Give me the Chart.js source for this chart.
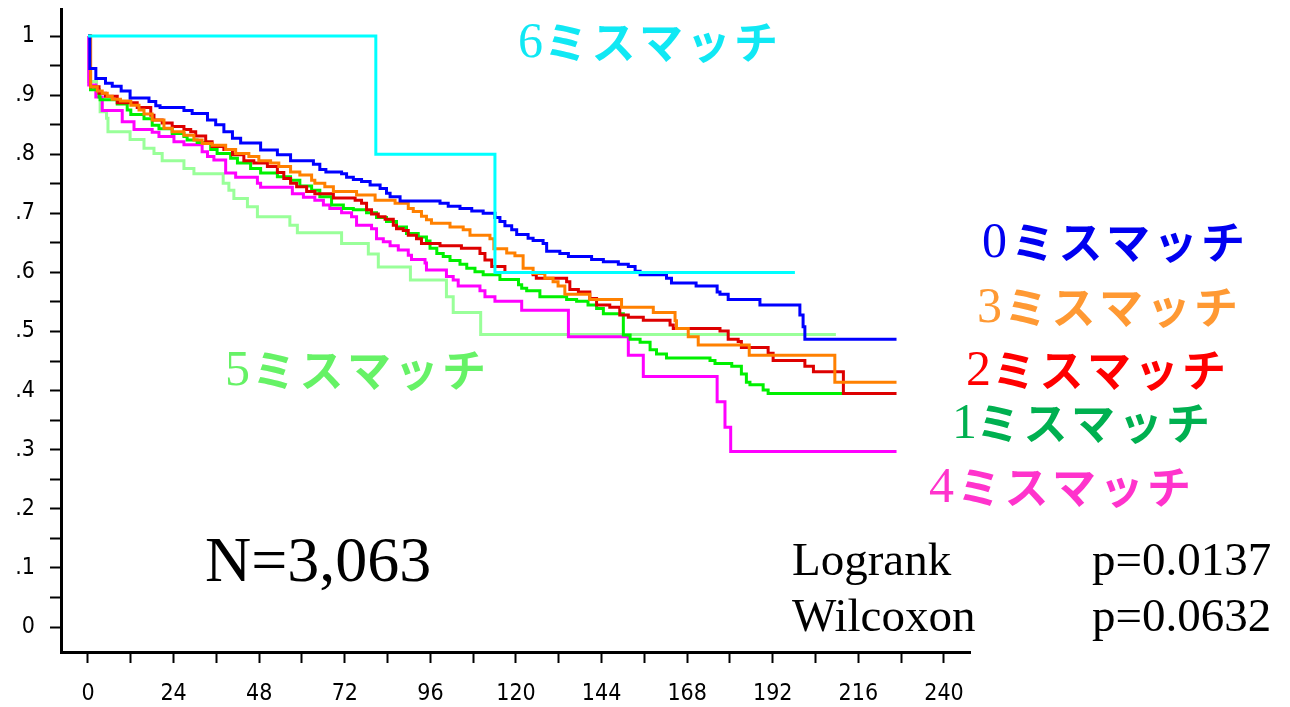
<!DOCTYPE html>
<html>
<head>
<meta charset="utf-8">
<script src="https://cdn.jsdelivr.net/npm/chart.js@4.4.1/dist/chart.umd.min.js"></script>
<style>
  html, body { margin: 0; padding: 0; background: #fff; }
  canvas { display: block; }
</style>
</head>
<body>
<canvas id="km" width="1290" height="707"></canvas>
<script>
// Kaplan-Meier curves by number of mismatches (months, survival)
const months0 = [0, 0.5, 2.2, 4.9, 6.8, 9.3, 11.8, 17.1, 19.0, 20.2, 26.9, 29.2, 33.5, 35.8, 38.1, 40.5, 42.8, 48.4, 53.1, 56.8, 63.2, 65.0, 66.7, 71.1, 72.5, 74.4, 76.7, 79.1, 81.9, 83.7, 84.7, 87.5, 98.7, 101.0, 104.3, 107.6, 110.8, 114.1, 115.5, 116.9, 118.8, 120.2, 123.4, 124.8, 127.6, 128.6, 132.3, 134.7, 141.2, 144.5, 148.7, 151.5, 153.4, 154.8, 162.2, 163.6, 170.5, 176.4, 177.2, 179.5, 188.4, 199.6, 200.5, 201.0, 226.7];
const surv0   = [1, .945, .928, .920, .915, .907, .895, .889, .882, .879, .874, .869, .858, .850, .838, .827, .819, .807, .799, .789, .783, .774, .770, .767, .761, .757, .754, .748, .742, .734, .728, .721, .717, .712, .708, .704, .700, .693, .686, .679, .672, .664, .658, .654, .649, .636, .632, .627, .622, .618, .614, .610, .602, .596, .590, .582, .577, .567, .563, .554, .545, .528, .508, .487, .487];

const months1 = [0, 0.7, 3.1, 3.4, 8.2, 11.0, 12.0, 15.7, 18.0, 19.9, 23.6, 26.9, 27.8, 30.6, 34.4, 36.2, 40.0, 41.9, 45.6, 48.4, 53.1, 56.8, 59.4, 62.7, 65.0, 68.3, 71.6, 74.4, 78.1, 80.9, 83.7, 86.5, 89.3, 92.6, 94.9, 95.9, 97.8, 99.6, 101.5, 104.3, 106.2, 108.5, 110.8, 115.5, 120.7, 121.6, 123.0, 126.7, 134.2, 137.0, 140.2, 142.6, 144.5, 150.1, 152.0, 154.8, 157.6, 159.4, 162.2, 174.4, 175.8, 180.5, 183.2, 184.6, 185.6, 189.3, 190.7, 211.8];
const surv1   = [1, .909, .897, .892, .885, .875, .867, .860, .849, .843, .835, .830, .824, .820, .808, .801, .793, .785, .776, .768, .762, .756, .746, .739, .728, .714, .708, .706, .701, .693, .686, .677, .666, .660, .653, .641, .632, .627, .620, .614, .607, .601, .596, .588, .579, .573, .569, .559, .554, .551, .545, .539, .530, .494, .487, .482, .469, .462, .455, .451, .446, .441, .428, .414, .410, .401, .395, .395];

const months2 = [0, 0.7, 3.1, 4.9, 8.2, 13.8, 17.6, 18.5, 20.8, 23.6, 26.9, 28.8, 30.2, 33.0, 34.8, 38.1, 40.5, 43.7, 46.5, 50.3, 53.1, 54.9, 56.8, 58.5, 61.3, 63.6, 68.8, 74.9, 76.7, 78.1, 79.5, 81.4, 83.3, 85.6, 86.5, 88.4, 89.8, 92.1, 93.5, 98.7, 104.7, 109.9, 111.3, 113.2, 116.9, 124.8, 125.7, 134.2, 135.1, 137.5, 140.7, 142.6, 146.3, 149.1, 151.5, 155.7, 163.2, 164.1, 177.2, 179.5, 182.3, 183.2, 190.7, 192.1, 201.0, 203.4, 211.8, 226.7];
const surv2   = [1, .914, .903, .898, .887, .879, .866, .858, .853, .847, .842, .838, .831, .821, .813, .808, .799, .789, .785, .779, .769, .759, .751, .745, .737, .733, .726, .722, .717, .706, .699, .694, .690, .680, .674, .671, .663, .657, .649, .645, .641, .632, .621, .610, .600, .596, .590, .584, .571, .567, .556, .545, .541, .528, .524, .519, .511, .505, .501, .487, .483, .473, .463, .451, .441, .432, .395, .395];

const months3 = [0, 0.75, 2.6, 4.0, 5.4, 6.8, 9.1, 12.0, 14.3, 15.7, 18.0, 21.3, 23.6, 26.9, 29.7, 32.0, 34.8, 38.6, 41.4, 45.1, 47.9, 51.2, 53.5, 56.8, 59.4, 62.7, 63.6, 66.4, 68.8, 75.3, 80.5, 86.1, 89.8, 91.2, 93.5, 94.9, 96.3, 101.5, 105.2, 107.1, 112.7, 113.8, 117.4, 119.7, 122.0, 124.8, 128.1, 130.4, 131.8, 133.7, 140.7, 149.6, 158.5, 164.6, 165.0, 168.3, 171.1, 185.4, 209.4, 226.7];
const surv3   = [1, .914, .907, .903, .898, .893, .890, .883, .875, .868, .858, .844, .838, .832, .824, .818, .815, .808, .801, .796, .789, .785, .779, .770, .765, .756, .751, .745, .737, .731, .722, .717, .708, .703, .695, .689, .683, .677, .672, .663, .657, .640, .633, .628, .607, .598, .590, .584, .577, .563, .554, .541, .532, .518, .505, .491, .477, .460, .414, .414];

const months4 = [0, 0.2, 2.2, 4.0, 9.6, 12.9, 18.0, 19.9, 24.1, 26.9, 32.0, 33.5, 35.3, 38.6, 41.4, 47.5, 48.4, 57.3, 60.4, 63.6, 66.0, 67.8, 71.1, 73.9, 75.3, 79.5, 80.9, 82.8, 84.7, 87.0, 89.8, 90.7, 94.5, 94.9, 100.5, 102.4, 103.8, 109.9, 111.3, 114.1, 121.6, 134.7, 151.5, 155.7, 176.4, 178.6, 180.2, 226.7];
const surv4   = [1, .917, .897, .874, .855, .842, .837, .830, .821, .816, .804, .796, .790, .768, .761, .751, .744, .733, .727, .722, .714, .708, .701, .694, .680, .674, .657, .652, .645, .638, .629, .622, .616, .604, .593, .587, .577, .569, .559, .551, .536, .491, .460, .424, .381, .338, .297, .297];

const months5 = [0, 0.2, 2.4, 3.4, 5.2, 5.6, 11.8, 15.7, 18.5, 20.8, 26.9, 29.7, 37.9, 39.5, 40.9, 44.7, 47.5, 56.6, 58.7, 71.1, 78.6, 81.4, 90.4, 100.5, 102.4, 110.1, 209.7];
const surv5   = [1, .923, .903, .872, .861, .838, .825, .810, .801, .789, .776, .767, .751, .739, .725, .711, .694, .680, .667, .649, .631, .609, .587, .559, .532, .495, .495];

const months6 = [0, 80.7, 114.1, 198.2];
const surv6   = [1, .8, .6, .6];

// axis ticks
const xTickValues = [0, 12, 24, 36, 48, 60, 72, 84, 96, 108, 120, 132, 144, 156, 168, 180, 192, 204, 216, 228, 240];
const yTickValues = [0, .05, .1, .15, .2, .25, .3, .35, .4, .45, .5, .55, .6, .65, .7, .75, .8, .85, .9, .95, 1];
const yTickLabels = ['0', '', '.1', '', '.2', '', '.3', '', '.4', '', '.5', '', '.6', '', '.7', '', '.8', '', '.9', '', '1'];

const kana = 'ミスマッチ';

function pairs(xs, ys) {
    return xs.map(function (x, i) { return { x: x, y: ys[i] }; });
}

function curve(label, xs, ys, color) {
    return {
        label: label,
        data: pairs(xs, ys),
        borderColor: color,
        borderWidth: 3,
        pointRadius: 0,
        stepped: true,
        fill: false
    };
}

// group captions and statistics, drawn as text on top of the chart
const captions = [
    { n: '6', color: '#10E8F4', x: 518, k: 566, y: 57 },
    { n: '0', color: '#0000F0', x: 982, k: 1033, y: 257 },
    { n: '3', color: '#FF9933', x: 977, k: 1026, y: 322 },
    { n: '2', color: '#FF0000', x: 966, k: 1014, y: 385 },
    { n: '1', color: '#00B050', x: 952, k: 998, y: 438 },
    { n: '4', color: '#FF33CC', x: 929, k: 979, y: 502 },
    { n: '5', color: '#66F266', x: 225, k: 274, y: 385 }
];

const textPlugin = {
    id: 'kmText',
    afterDraw: function (chart) {
        const ctx = chart.ctx;
        ctx.save();
        ctx.textBaseline = 'alphabetic';
        captions.forEach(function (c) {
            ctx.fillStyle = c.color;
            ctx.textAlign = 'left';
            ctx.font = '50px "Liberation Serif", serif';
            ctx.fillText(c.n, c.x, c.y);
            ctx.textAlign = 'center';
            ctx.font = 'bold 44px "Noto Sans CJK JP", sans-serif';
            Array.from(kana).forEach(function (ch, i) {
                ctx.fillText(ch, c.k + i * 47.5, c.y + 2);
            });
        });
        ctx.fillStyle = '#000';
        ctx.textAlign = 'left';
        ctx.font = '64px "Liberation Serif", serif';
        ctx.fillText('N=3,063', 205, 581);
        ctx.font = '47px "Liberation Serif", serif';
        ctx.fillText('Logrank', 792, 575);
        ctx.fillText('p=0.0137', 1092, 575);
        ctx.fillText('Wilcoxon', 792, 631);
        ctx.fillText('p=0.0632', 1092, 631);
        ctx.restore();
    }
};

const axisFont = { family: '"Liberation Sans Narrow", "Arial Narrow", "DejaVu Sans Condensed", sans-serif', size: 23 };

const ctx = document.getElementById('km');

const chartData = {
    datasets: [
        curve('6ミスマッチ', months6, surv6, '#00FFFF'),
        curve('0ミスマッチ', months0, surv0, '#0000FF'),
        curve('3ミスマッチ', months3, surv3, '#FF8000'),
        curve('2ミスマッチ', months2, surv2, '#DD0000'),
        curve('1ミスマッチ', months1, surv1, '#00F000'),
        curve('4ミスマッチ', months4, surv4, '#FF00FF'),
        curve('5ミスマッチ', months5, surv5, '#99FF99')
    ]
};

const chartOptions = {
    responsive: false,
    animation: false,
    devicePixelRatio: 1,
    layout: { padding: { left: 0, top: 9, right: 320, bottom: 0 } },
    plugins: { legend: { display: false }, tooltip: { enabled: false } },
    scales: {
        x: {
            type: 'linear',
            min: -7.57,
            max: 247.3,
            afterBuildTicks: function (s) { s.ticks = xTickValues.map(function (v) { return { value: v }; }); },
            afterFit: function (s) { s.height = 55; s.paddingLeft = 0; s.paddingRight = 0; },
            grid: { drawOnChartArea: false, drawTicks: true, tickLength: 11, tickWidth: 2, tickColor: '#000' },
            border: { display: true, color: '#000', width: 3 },
            ticks: {
                autoSkip: false, maxRotation: 0, padding: 17, color: '#000', font: axisFont,
                callback: function (v) { return v % 24 === 0 ? String(v) : ''; }
            }
        },
        y: {
            type: 'linear',
            min: -0.0423,
            max: 1.0457,
            afterBuildTicks: function (s) { s.ticks = yTickValues.map(function (v) { return { value: v }; }); },
            afterFit: function (s) { s.width = 61; s.paddingTop = 0; s.paddingBottom = 0; },
            grid: { drawOnChartArea: false, drawTicks: true, tickLength: 11, tickWidth: 2, tickColor: '#000' },
            border: { display: true, color: '#000', width: 3 },
            ticks: {
                autoSkip: false, padding: 15, color: '#000', font: axisFont,
                callback: function (v, i) { return yTickLabels[i]; }
            }
        }
    }
};

const kmChart = new Chart(ctx, {
    type: 'line',
    data: chartData,
    options: chartOptions,
    plugins: [textPlugin]
});
</script>
</body>
</html>
